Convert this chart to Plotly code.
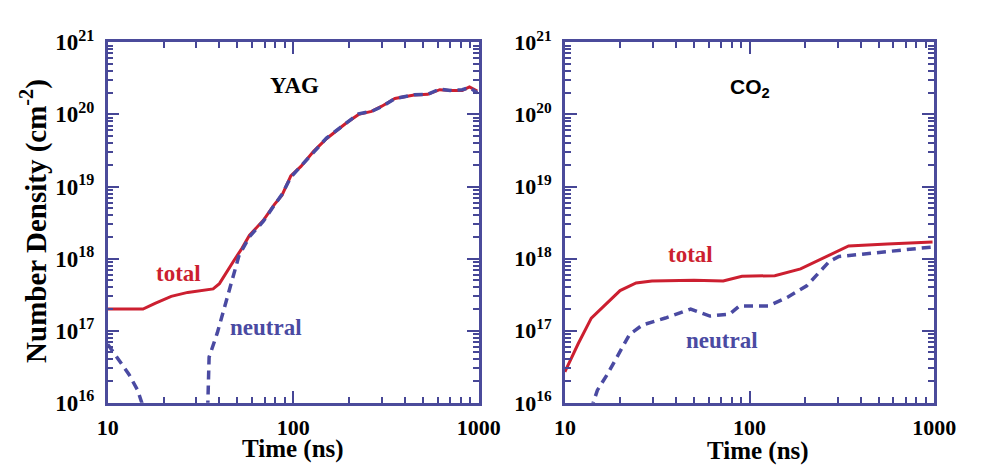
import plotly.graph_objects as go
import numpy as np

# ---------------- data ----------------
yag_total_t = [10, 15.5, 18, 22, 27, 37, 40, 44, 48, 53, 58, 69, 79, 87, 97, 110, 129, 151,
               193, 225, 264, 300, 353, 448, 530, 616, 700, 813, 890, 980]
yag_total_n = [2.0e17, 2.0e17, 2.4e17, 3.0e17, 3.4e17, 3.8e17, 4.5e17, 6.5e17, 9.5e17, 1.4e18,
               2.1e18, 3.4e18, 5.6e18, 7.6e18, 1.4e19, 1.9e19, 3.1e19, 4.6e19,
               7.6e19, 1.0e20, 1.1e20, 1.3e20, 1.66e20, 1.86e20, 1.9e20, 2.2e20, 2.15e20, 2.15e20, 2.4e20, 2.1e20]

yag_neutral_t = [10, 11.5, 13, 14.5, 16, None, 34.4, 35.2, 39, 43, 47.5, 51, 58, 69, 79, 87, 97, 110,
                 129, 151, 193, 225, 264, 300, 353, 448, 530, 616, 700, 813, 890, 980]
yag_neutral_n = [6.5e16, 4.0e16, 2.5e16, 1.5e16, 7e15, None, 5e15, 4.3e16, 9.4e16, 2.3e17, 6.3e17, 1.1e18,
                 2.0e18, 3.3e18, 5.5e18, 7.8e18, 1.35e19, 1.95e19, 3.0e19, 4.7e19, 7.5e19, 1.02e20,
                 1.1e20, 1.28e20, 1.65e20, 1.88e20, 1.9e20, 2.25e20, 2.15e20, 2.2e20, 2.35e20, 2.0e20]

co2_total_t = [10, 11.8, 13.9, 16.9, 19.9, 24.3, 29.6, 50, 72, 91, 137, 189, 259, 344, 558, 980]
co2_total_n = [2.7e16, 6.6e16, 1.5e17, 2.4e17, 3.6e17, 4.6e17, 4.9e17, 5.0e17, 4.9e17, 5.7e17,
               5.8e17, 7.2e17, 1.07e18, 1.5e18, 1.6e18, 1.7e18]

co2_neutral_t = [13, 14.5, 15, 17, 19.9, 22.4, 26.3, 35, 48, 61, 78, 88, 126, 160, 204, 240, 270,
                 305, 457, 980]
co2_neutral_n = [5e15, 1.2e16, 1.5e16, 2.5e16, 5.3e16, 8.9e16, 1.2e17, 1.5e17, 2.0e17, 1.6e17,
                 1.7e17, 2.2e17, 2.2e17, 2.9e17, 4.2e17, 6.6e17, 9.1e17, 1.07e18, 1.2e18, 1.45e18]

y_decades = [1e16, 1e17, 1e18, 1e19, 1e20, 1e21]
y_ticktext = ["10<sup>16</sup>", "10<sup>17</sup>", "10<sup>18</sup>", "10<sup>19</sup>",
              "10<sup>20</sup>", "10<sup>21</sup>"]
x_decades = [10, 100, 1000]
x_ticktext = ["10", "100", "1000"]

# ---------------- style ----------------
RED = "#cc1f30"
BLUE = "#4a4aa2"
AXC = "#4b4b9b"
TICKC = "rgb(70,70,150)"
SERIF = "Liberation Serif"

fig = go.Figure()

fig.add_trace(go.Scatter(x=yag_total_t, y=yag_total_n, mode="lines",
                         line=dict(color=RED, width=3), xaxis="x", yaxis="y", showlegend=False))
fig.add_trace(go.Scatter(x=yag_neutral_t, y=yag_neutral_n, mode="lines", connectgaps=False,
                         line=dict(color=BLUE, width=3.5, dash="9px,6px"), xaxis="x", yaxis="y",
                         showlegend=False))
fig.add_trace(go.Scatter(x=co2_total_t, y=co2_total_n, mode="lines",
                         line=dict(color=RED, width=3), xaxis="x2", yaxis="y2", showlegend=False))
fig.add_trace(go.Scatter(x=co2_neutral_t, y=co2_neutral_n, mode="lines",
                         line=dict(color=BLUE, width=3.5, dash="9px,6px"), xaxis="x2", yaxis="y2",
                         showlegend=False))

minor_cfg = dict(ticks="inside", ticklen=6, tickwidth=2, tickcolor=TICKC, dtick="D1", showgrid=False)


def xax(domain, anchor):
    return dict(type="log", range=[1, 3], domain=domain, anchor=anchor,
                showline=True, linecolor=AXC, linewidth=2.5, mirror="ticks",
                showgrid=False, zeroline=False,
                ticks="inside", ticklen=12, tickwidth=2, tickcolor=TICKC,
                tickmode="array", tickvals=x_decades, ticktext=x_ticktext,
                tickfont=dict(family=SERIF, size=22, color="black", weight="bold"),
                ticklabelstandoff=3, minor=minor_cfg)


def yax(domain, anchor, size):
    return dict(type="log", range=[16, 21], domain=domain, anchor=anchor,
                showline=True, linecolor=AXC, linewidth=2.5, mirror="ticks",
                showgrid=False, zeroline=False,
                ticks="inside", ticklen=12, tickwidth=2, tickcolor=TICKC,
                tickmode="array", tickvals=y_decades, ticktext=y_ticktext,
                tickfont=dict(family=SERIF, size=size, color="black", weight="bold"),
                ticklabelstandoff=6, minor=minor_cfg)


ydom = [1 - 412 / 475, 1 - 28 / 475]
fig.update_layout(
    width=990, height=475,
    margin=dict(l=0, r=0, t=0, b=0),
    paper_bgcolor="white", plot_bgcolor="white",
    xaxis=xax([100 / 990, 484 / 990], "y"),
    yaxis=yax(ydom, "x", 23),
    xaxis2=xax([573 / 990, 955 / 990], "y2"),
    yaxis2=yax(ydom, "x2", 22),
)

ann_font = dict(family=SERIF, size=23, weight="bold")
annotations = [
    dict(x=np.log10(101), y=20.40, xref="x", yref="y", text="YAG", showarrow=False,
         font=dict(ann_font, color="black")),
    dict(x=1.38, y=17.79, xref="x", yref="y", text="total", showarrow=False,
         font=dict(ann_font, color=RED)),
    dict(x=1.855, y=17.05, xref="x", yref="y", text="neutral", showarrow=False,
         font=dict(ann_font, color=BLUE)),
    dict(x=2.0, y=20.37, xref="x2", yref="y2", text="CO<sub>2</sub>", showarrow=False,
         font=dict(family="Liberation Sans", size=21, weight="bold", color="black")),
    dict(x=1.68, y=18.06, xref="x2", yref="y2", text="total", showarrow=False,
         font=dict(ann_font, color=RED)),
    dict(x=1.85, y=16.86, xref="x2", yref="y2", text="neutral", showarrow=False,
         font=dict(ann_font, color=BLUE)),
    dict(x=292 / 990, y=1 - 461 / 475, xref="paper", yref="paper", text="Time (ns)",
         xanchor="center", yanchor="middle",
         showarrow=False, font=dict(family=SERIF, size=25, weight="bold", color="black")),
    dict(x=773 / 990, y=1 - 463 / 475, xref="paper", yref="paper", text="Time (ns)",
         xanchor="center", yanchor="middle",
         showarrow=False, font=dict(family=SERIF, size=25, weight="bold", color="black")),
    dict(x=24 / 990, y=1 - 218 / 475, xref="paper", yref="paper",
         text="Number Density (cm<sup>-2</sup>)", textangle=-90,
         xanchor="center", yanchor="middle",
         showarrow=False, font=dict(family=SERIF, size=29, weight="bold", color="black")),
]
fig.update_layout(annotations=annotations)

fig.write_html("out.html")
